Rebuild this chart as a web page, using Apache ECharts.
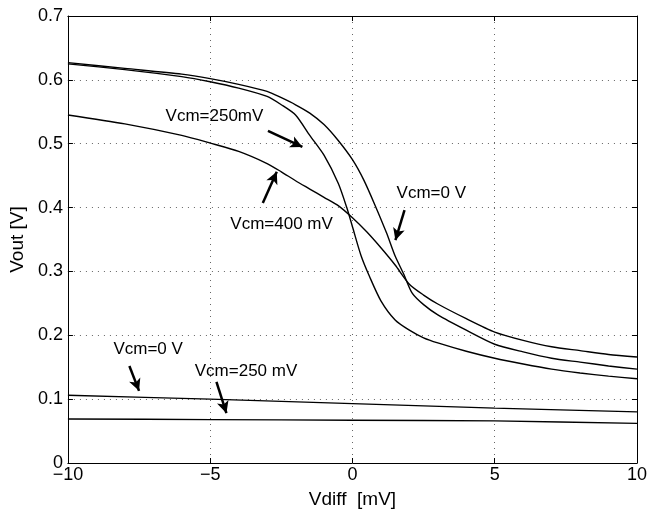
<!DOCTYPE html>
<html>
<head>
<meta charset="utf-8">
<script src="https://cdn.jsdelivr.net/npm/echarts@6/dist/echarts.min.js"></script>
<style>
  html, body { margin: 0; padding: 0; background: #fff; }
  #chart { width: 650px; height: 514px; }
</style>
</head>
<body>
<div id="chart"></div>
<script>
// Vout vs Vdiff
const vcm0High = [
  [-10, 0.627], [-8, 0.618], [-6, 0.609], [-5, 0.602], [-4, 0.593], [-3, 0.582],
  [-2.5, 0.572], [-2, 0.561], [-1.5, 0.548], [-1, 0.530], [-0.5, 0.505], [0, 0.475],
  [0.4, 0.443], [0.8, 0.403], [1.2, 0.360], [1.5, 0.324], [1.8, 0.296], [2.1, 0.266],
  [2.5, 0.248], [3, 0.232], [4, 0.208], [5, 0.186], [6, 0.174], [7, 0.164],
  [8, 0.158], [9, 0.152], [10, 0.147]
];
const vcm250High = [
  [-10, 0.625], [-8, 0.616], [-6, 0.605], [-5, 0.597], [-4, 0.587], [-3, 0.574],
  [-2.5, 0.561], [-2, 0.545], [-1.5, 0.513], [-1, 0.482], [-0.5, 0.438], [-0.2, 0.400],
  [0, 0.370], [0.3, 0.325], [0.6, 0.292], [1, 0.254], [1.5, 0.224], [2, 0.208],
  [2.5, 0.196], [3, 0.188], [4, 0.175], [5, 0.164], [6, 0.155], [7, 0.147],
  [8, 0.141], [9, 0.136], [10, 0.132]
];
const vcm400High = [
  [-10, 0.545], [-8, 0.531], [-6, 0.513], [-5, 0.501], [-4, 0.488], [-3, 0.469],
  [-2.5, 0.456], [-2, 0.442], [-1.5, 0.429], [-1, 0.416], [-0.5, 0.403], [0, 0.384],
  [0.5, 0.362], [1, 0.337], [1.5, 0.310], [2, 0.280], [2.5, 0.263], [3, 0.249],
  [4, 0.226], [5, 0.205], [6, 0.192], [7, 0.182], [8, 0.176], [9, 0.170], [10, 0.166]
];
const vcm0Low = [[-10, 0.106], [-5, 0.100], [0, 0.093], [5, 0.086], [10, 0.080]];
const vcm250Low = [[-10, 0.069], [-5, 0.068], [0, 0.067], [5, 0.066], [10, 0.062]];

// annotation text [x, y, text] and arrows [x1, y1, x2, y2], in data units
const notes = [
  [-4.85, 0.543, 'Vcm=250mV'],
  [-2.49, 0.374, 'Vcm=400 mV'],
  [2.77, 0.422, 'Vcm=0 V'],
  [-7.18, 0.178, 'Vcm=0 V'],
  [-3.74, 0.143, 'Vcm=250 mV']
];
const arrows = [
  [-2.97, 0.520, -1.76, 0.495],
  [-3.15, 0.407, -2.66, 0.456],
  [1.83, 0.396, 1.51, 0.349],
  [-7.84, 0.152, -7.50, 0.113],
  [-4.78, 0.127, -4.43, 0.078]
];

const font = 'Liberation Sans, Arial, Helvetica, sans-serif';
const chart = echarts.init(document.getElementById('chart'));

function curve(data) {
  return {
    type: 'line', data: data, showSymbol: false, animation: false, smooth: 0.25,
    lineStyle: { color: '#000', width: 1.4 }, silent: true
  };
}

const axisCommon = {
  axisLine: { show: true, onZero: false, lineStyle: { color: '#000', width: 1 } },
  axisTick: { show: true, inside: true, length: 5, lineStyle: { color: '#000' } }
};
const dots = { show: true, lineStyle: { color: '#666', type: [1, 5], width: 1 } };

chart.setOption({
  backgroundColor: '#fff',
  animation: false,
  grid: { left: 65, right: 10, top: 16, bottom: 47 },
  xAxis: [
    Object.assign({
      type: 'value', min: -10, max: 10, interval: 5,
      name: 'Vdiff  [mV]', nameLocation: 'middle', nameGap: 27,
      nameTextStyle: { color: '#000', fontSize: 19, fontFamily: font },
      axisLabel: {
        color: '#000', fontSize: 18, fontFamily: font, margin: 3,
        formatter: v => (v < 0 ? '\u2212' + Math.abs(v) : String(v))
      },
      splitLine: dots
    }, axisCommon),
    Object.assign({
      type: 'value', min: -10, max: 10, interval: 5, position: 'top',
      axisLabel: { show: false }, splitLine: { show: false }
    }, axisCommon)
  ],
  yAxis: [
    Object.assign({
      type: 'value', min: 0, max: 0.7, interval: 0.1,
      name: 'Vout [V]', nameLocation: 'middle', nameGap: 36,
      nameTextStyle: { color: '#000', fontSize: 19, fontFamily: font },
      axisLabel: {
        color: '#000', fontSize: 18, fontFamily: font, margin: 5,
        formatter: v => (v === 0 ? '0' : v.toFixed(1))
      },
      splitLine: dots
    }, axisCommon),
    Object.assign({
      type: 'value', min: 0, max: 0.7, interval: 0.1, position: 'right',
      axisLabel: { show: false }, splitLine: { show: false }
    }, axisCommon)
  ],
  series: [
    curve(vcm0High),
    curve(vcm250High),
    curve(vcm400High),
    curve(vcm0Low),
    curve(vcm250Low),
    {
      type: 'scatter', symbolSize: 0, silent: true,
      itemStyle: { color: '#000', opacity: 1 },
      data: notes,
      label: {
        show: true, position: 'inside', color: '#000', opacity: 1,
        fontSize: 17, fontFamily: font,
        textBorderWidth: 0, textBorderColor: 'transparent',
        formatter: p => p.value[2]
      },
      markLine: {
        silent: true, animation: false,
        symbol: ['none', 'arrow'], symbolSize: [9, 12],
        label: { show: false },
        lineStyle: { color: '#000', width: 2.5, type: 'solid', opacity: 1 },
        data: arrows.map(a => [{ coord: [a[0], a[1]] }, { coord: [a[2], a[3]] }])
      }
    }
  ]
});
</script>
</body>
</html>
